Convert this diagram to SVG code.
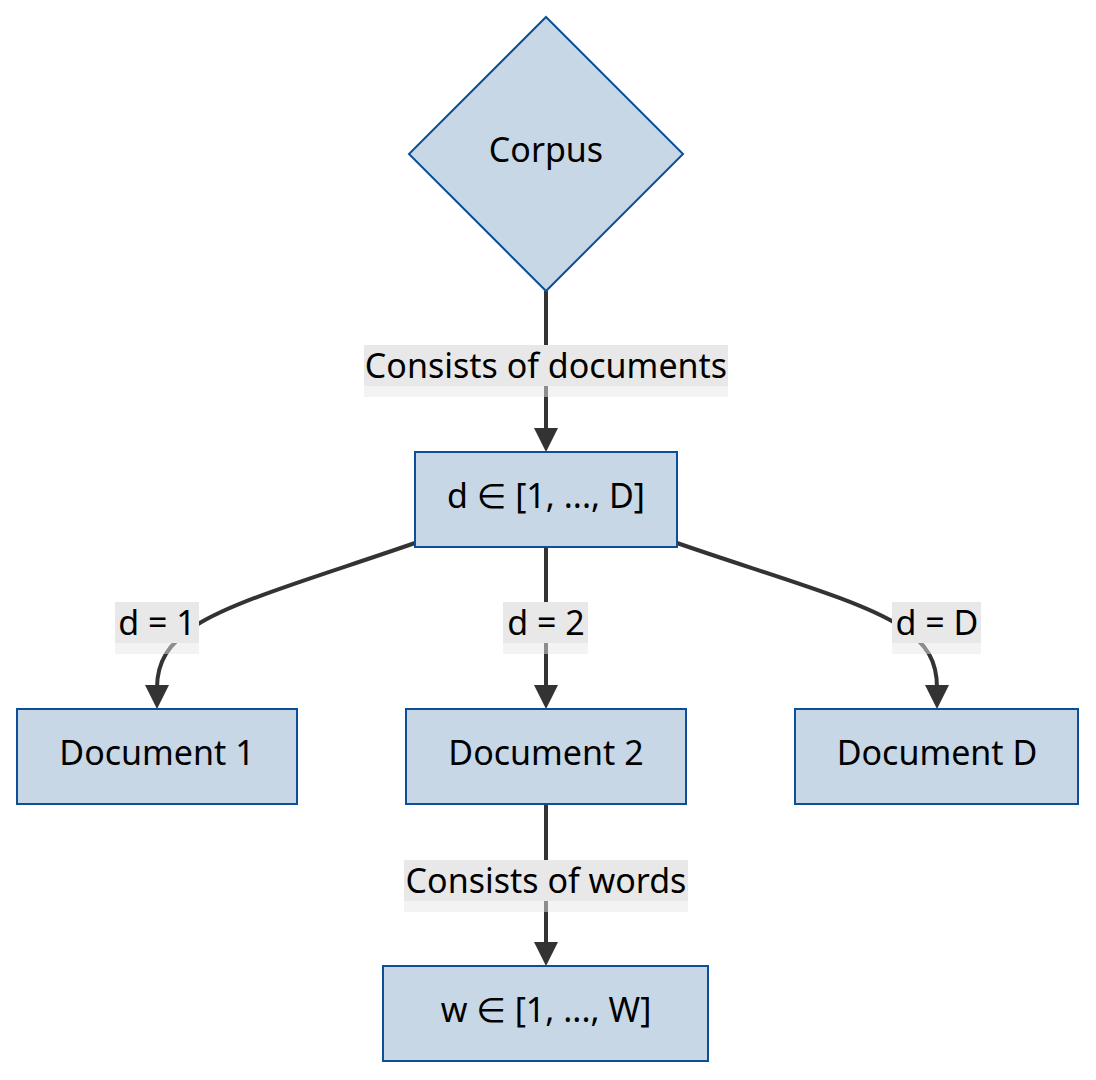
<svg xmlns="http://www.w3.org/2000/svg" width="1096" height="1080" viewBox="0 0 1096 1080">
<defs>
<style>
.node{fill:#c8d7e5;stroke:#0d4f96;stroke-width:2}
.t{font-family:"Noto Sans","Open Sans","DejaVu Sans",sans-serif;font-size:34px;fill:#000;text-anchor:middle}
.edge{fill:none;stroke:#333;stroke-width:4}
.lb{fill:#e8e8e8}
.ls{fill:#e8e8e8;opacity:0.5}
</style>
</defs>
<g id="connectors">
<path class="edge" d="M546,291 L546,430" />
<path class="edge" d="M546,547 L546,686" />
<path class="edge" d="M546,804 L546,944" />
<path class="edge" d="M415,543 C320,576 235,600 195,626 C168,644 157,662 157,688" />
<path class="edge" d="M677,543 C772,576 860,600 900,626 C928,644 937,662 937,688" />
<path d="M534,428 L558,428 L546,452 z" fill="#333"/>
<path d="M534,685 L558,685 L546,709 z" fill="#333"/>
<path d="M534,942 L558,942 L546,966 z" fill="#333"/>
<path d="M145,685 L169,685 L157,709 z" fill="#333"/>
<path d="M925,685 L949,685 L937,709 z" fill="#333"/>
<g id="label-docs">
<rect class="lb" x="364" y="345" width="364" height="41"/>
<rect class="ls" x="364" y="386" width="364" height="11"/>
<text class="t" x="546" y="378">Consists of documents</text>
</g>
<g id="label-d1">
<rect class="lb" x="115" y="602" width="84" height="41"/>
<rect class="ls" x="115" y="643" width="84" height="11"/>
<text class="t" x="157" y="635">d = 1</text>
</g>
<g id="label-d2">
<rect class="lb" x="503" y="602" width="85" height="41"/>
<rect class="ls" x="503" y="643" width="85" height="11"/>
<text class="t" x="546" y="635">d = 2</text>
</g>
<g id="label-dD">
<rect class="lb" x="892" y="602" width="89" height="41"/>
<rect class="ls" x="892" y="643" width="89" height="11"/>
<text class="t" x="937" y="635">d = D</text>
</g>
<g id="label-words">
<rect class="lb" x="404" y="860" width="284" height="41"/>
<rect class="ls" x="404" y="901" width="284" height="11"/>
<text class="t" x="546" y="893">Consists of words</text>
</g>
</g>
<g id="corpus">
<path class="node" d="M546,17 L683,154 L546,291 L409,154 z"/>
<text class="t" x="546" y="162">Corpus</text>
</g>
<g id="drange">
<rect class="node" x="415" y="452" width="262" height="95"/>
<text class="t" x="546" y="508">d ∈ [1, ..., D]</text>
</g>
<g id="doc1">
<rect class="node" x="17" y="709" width="280" height="95"/>
<text class="t" x="157" y="765">Document 1</text>
</g>
<g id="doc2">
<rect class="node" x="406" y="709" width="280" height="95"/>
<text class="t" x="546" y="765">Document 2</text>
</g>
<g id="docD">
<rect class="node" x="795" y="709" width="283" height="95"/>
<text class="t" x="937" y="765">Document D</text>
</g>
<g id="wrange">
<rect class="node" x="383" y="966" width="325" height="95"/>
<text class="t" x="546" y="1022">w ∈ [1, ..., W]</text>
</g>
</svg>
